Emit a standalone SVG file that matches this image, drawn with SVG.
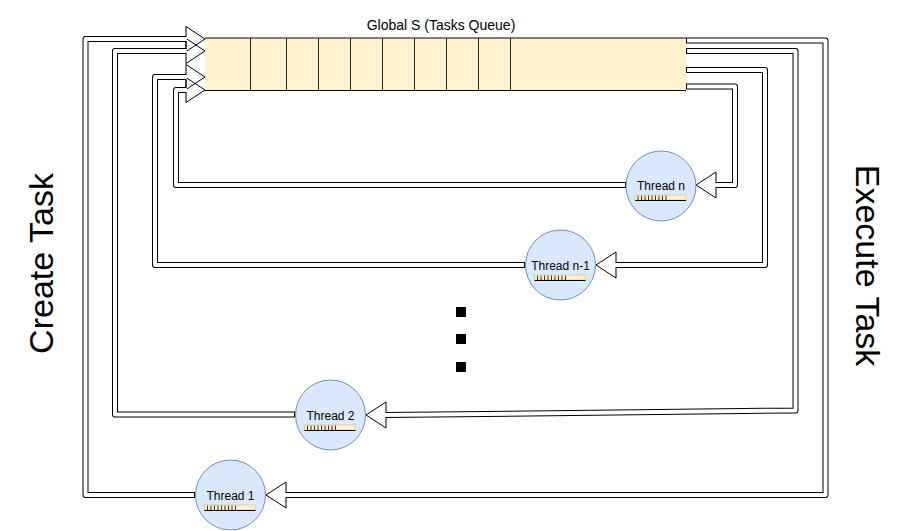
<svg xmlns="http://www.w3.org/2000/svg" xmlns:xlink="http://www.w3.org/1999/xlink" width="911" height="531" viewBox="0 0 911 531">
<style>
text{font-family:"Liberation Sans",Arial,Helvetica,sans-serif;fill:#000}
.o{fill:none;stroke:#000;stroke-width:6;stroke-linejoin:round}
.i{fill:none;stroke:#fff;stroke-width:4;stroke-linejoin:round}
.h{fill:none;stroke:#000;stroke-width:1}
.th circle{fill:#dae8fc;stroke:#6c8ebf;stroke-width:1}
.th text{font-size:12px;text-anchor:middle}
.big{font-size:34px;text-anchor:middle}
</style>
<defs>
<g id="minibar">
<rect x="-26" y="0" width="51" height="5" fill="#fff2cc" stroke="#d6b656" stroke-width="0.5"/>
<path d="M-26 5.5H25" stroke="#000" stroke-width="1"/>
<path d="M-23 0.5V5M-19.5 0.5V5M-16 0.5V5M-12.5 0.5V5M-9 0.5V5M-5.5 0.5V5M-2 0.5V5M1.5 0.5V5M5 0.5V5" stroke="#000" stroke-width="0.8"/>
</g>
</defs>
<rect width="911" height="531" fill="#fff"/>

<g id="connectors">
<path class="o" d="M686,40.5 H825.5 V495 H286"/>
<path class="o" d="M686,51 H795.5 V410.5 L386,415"/>
<path class="o" d="M686,70 H765 V265 H616"/>
<path class="o" d="M686,86.5 H735 V185 H716"/>
<path class="o" d="M195,495 H85.5 V39 H186"/>
<path class="o" d="M295,414.5 H115 V51 H186"/>
<path class="o" d="M525,265 H155 V77 H186"/>
<path class="o" d="M626,185 H176 V90 H186"/>
<polygon class="h" points="286,482 266,495 286,508"/>
<polygon class="h" points="386,402 366,415 386,428"/>
<polygon class="h" points="616,252 596,265 616,278"/>
<polygon class="h" points="716,172 696,185 716,198"/>
<polygon class="h" points="186,26.5 205,39 186,51.5"/>
<polygon class="h" points="186,38.5 205,51 186,63.5"/>
<polygon class="h" points="186,64.5 205,77 186,89.5"/>
<polygon class="h" points="186,77.5 205,90 186,102.5"/>
<path class="i" d="M687,40.5 H825.5 V495 H285"/>
<path class="i" d="M687,51 H795.5 V410.5 L385,415"/>
<path class="i" d="M687,70 H765 V265 H615"/>
<path class="i" d="M687,86.5 H735 V185 H715"/>
<path class="i" d="M194,495 H85.5 V39 H187"/>
<path class="i" d="M294,414.5 H115 V51 H187"/>
<path class="i" d="M524,265 H155 V77 H187"/>
<path class="i" d="M625,185 H176 V90 H187"/>
</g>

<g id="queue">
<rect x="205" y="38" width="481" height="52.5" fill="#fff2cc"/>
<path d="M205,38H686M205,90.5H686" stroke="#000" stroke-width="1" fill="none"/>
<path d="M250.5,38V90.5M286.5,38V90.5M318.5,38V90.5M350.5,38V90.5M382.5,38V90.5M414.5,38V90.5M446.5,38V90.5M478.5,38V90.5M510.5,38V90.5" stroke="#222" stroke-width="1"/>
<text x="441" y="29.5" font-size="14" text-anchor="middle">Global S (Tasks Queue)</text>
</g>

<g id="thread-n" class="th">
<circle cx="661" cy="186" r="35"/>
<text x="661" y="190">Thread n</text>
<use xlink:href="#minibar" x="661" y="195"/>
</g>
<g id="thread-n-1" class="th">
<circle cx="560.5" cy="265" r="35"/>
<text x="560.5" y="270">Thread n-1</text>
<use xlink:href="#minibar" x="560.5" y="275"/>
</g>
<g id="thread-2" class="th">
<circle cx="330.5" cy="415" r="35"/>
<text x="330.5" y="420">Thread 2</text>
<use xlink:href="#minibar" x="330.5" y="425"/>
</g>
<g id="thread-1" class="th">
<circle cx="230.5" cy="495" r="35"/>
<text x="230.5" y="500">Thread 1</text>
<use xlink:href="#minibar" x="230.5" y="505"/>
</g>

<g id="ellipsis">
<rect x="456" y="307" width="10" height="10" fill="#000"/>
<rect x="456" y="334" width="10" height="10" fill="#000"/>
<rect x="456" y="362" width="10" height="10" fill="#000"/>
</g>

<g id="create-task">
<text class="big" transform="translate(53,263.5) rotate(-90)">Create Task</text>
</g>
<g id="execute-task">
<text class="big" transform="translate(856,265.5) rotate(90)">Execute Task</text>
</g>
</svg>
